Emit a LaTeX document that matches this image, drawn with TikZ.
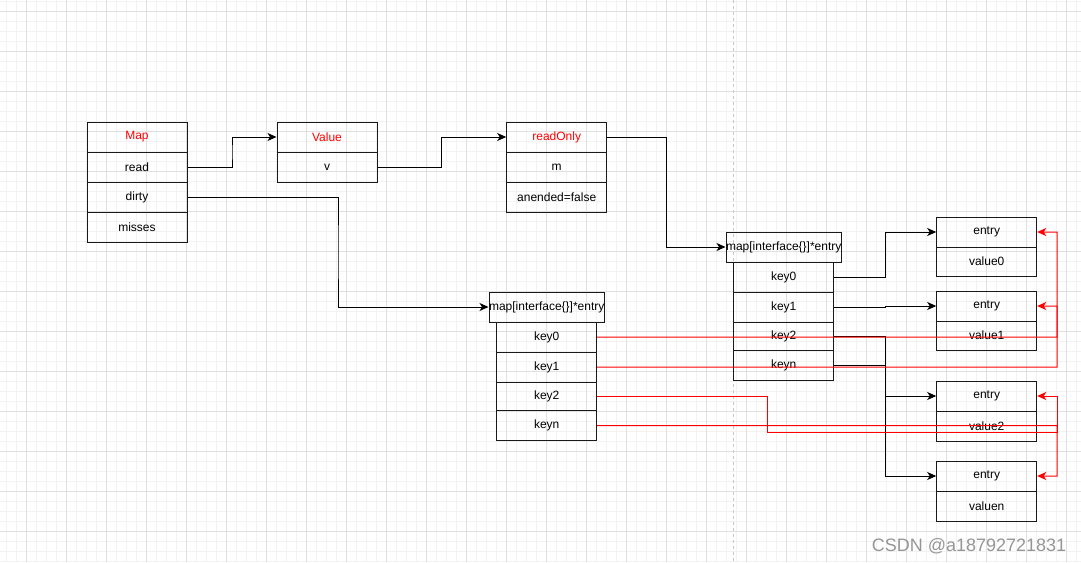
\documentclass[tikz,border=0pt]{standalone}
\usepackage{fontspec}
\setmainfont{Liberation Sans}
\usetikzlibrary{arrows.meta,calc}
\definecolor{dred}{RGB}{255,0,0}
\definecolor{gmin}{RGB}{242,242,242}
\definecolor{gmaj}{RGB}{224,224,224}
\definecolor{gdash}{RGB}{200,200,200}
\definecolor{wm}{RGB}{150,150,150}
\begin{document}
\begin{tikzpicture}[x=1pt,y=-1pt,
  cell/.style={draw=black!90,line width=1pt,minimum width=100pt,minimum height=30pt,inner sep=0pt,font=\fontsize{12}{14}\selectfont},
  hd/.style={cell,text=dred},
  tip/.style={-{Stealth[length=9pt,width=8pt,inset=2.5pt]}},
  arr/.style={draw=black,line width=1pt,tip},
  rarr/.style={draw=dred,line width=1pt,tip},
  elbow/.style={to path={-| ($(\tikztostart)!0.5!(\tikztotarget)$) |- (\tikztotarget)}}
]
\useasboundingbox (0,0) rectangle (1081,562);
\fill[white] (0,0) rectangle (1081,562);
% grid
\foreach \i in {0,...,107} {\draw[gmin,line width=1pt] (6.7+10*\i,0) -- (6.7+10*\i,562);}
\foreach \i in {0,...,56} {\draw[gmin,line width=1pt] (0,1.7+10*\i) -- (1081,1.7+10*\i);}
\foreach \i in {0,...,26} {\draw[gmaj,line width=1pt] (26.7+40*\i,0) -- (26.7+40*\i,562);}
\foreach \i in {0,...,13} {\draw[gmaj,line width=1pt] (0,11.7+40*\i) -- (1081,11.7+40*\i);}
\draw[gdash,line width=1pt,dash pattern=on 3pt off 3pt] (733.3,0) -- (733.3,562);

% Map
\node[hd] (map) at (137,137) {Map};
\node[cell] (read) at (137,167) {read};
\node[cell] (dirty) at (137,197) {dirty};
\node[cell] (misses) at (137,227) {misses};
% Value
\node[hd] (value) at (327,137) {Value};
\node[cell] (v) at (327,167) {v};
% readOnly
\node[hd] (ro) at (556.7,137) {readOnly};
\node[cell] (m) at (556.7,167) {m};
\node[cell] (amended) at (556.7,197) {anended=false};
% read map
\node[cell] (rh) at (783.7,247) {map[interface\{\}]*entry};
\node[cell] (rk0) at (783.7,277) {key0};
\node[cell] (rk1) at (783.7,307) {key1};
\node[cell,minimum height=28.5pt] (rk2) at (783.7,336.25) {key2};
\node[cell] (rkn) at (783.7,365.5) {keyn};
% dirty map
\node[cell] (dh) at (546.7,307) {map[interface\{\}]*entry};
\node[cell] (dk0) at (546.7,337) {key0};
\node[cell] (dk1) at (546.7,367) {key1};
\node[cell,minimum height=28.5pt] (dk2) at (546.7,396.25) {key2};
\node[cell] (dkn) at (546.7,425.5) {keyn};
% entries
\node[cell] (e0) at (986.7,232) {entry};
\node[cell,minimum height=29pt] (v0) at (986.7,261.5) {value0};
\node[cell] (e1) at (986.7,306) {entry};
\node[cell,minimum height=29pt] (v1) at (986.7,335.5) {value1};
\node[cell] (e2) at (986.7,396) {entry};
\node[cell] (v2) at (986.7,426) {value2};
\node[cell] (en) at (986.7,476) {entry};
\node[cell] (vn) at (986.7,506) {valuen};

% black connectors
\draw[arr] (read.east) to[elbow] (value.west);
\draw[arr] (v.east) to[elbow] (ro.west);
\draw[arr] (ro.east) to[elbow] (rh.west);
\draw[arr] (dirty.east) to[elbow] (dh.west);
\draw[arr] (rk0.east) to[elbow] (e0.west);
\draw[arr] (rk1.east) to[elbow] (e1.west);
\draw[arr] (rk2.east) to[elbow] (e2.west);
\draw[arr] (rkn.east) to[elbow] (en.west);

% red connectors
\coordinate (r0) at (1057,337.2);
\coordinate (r1) at (1057,367.2);
\coordinate (kink) at (767,432);
\coordinate (r2) at (1057,432);
\coordinate (rn) at (1057,425.7);
\draw[rarr] (dk0.east) -- (r0) |- (e0.east);
\draw[rarr] (dk1.east) -- (r1) |- (e1.east);
\draw[rarr] (dk2.east) -| (kink) -- (r2) |- (e2.east);
\draw[rarr] (dkn.east) -- (rn) |- (en.east);

% watermark
\node[text=wm,font=\fontsize{18}{20}\selectfont,inner sep=0pt] (wmark) at (969,546) {CSDN @a18792721831};
\end{tikzpicture}
\end{document}
